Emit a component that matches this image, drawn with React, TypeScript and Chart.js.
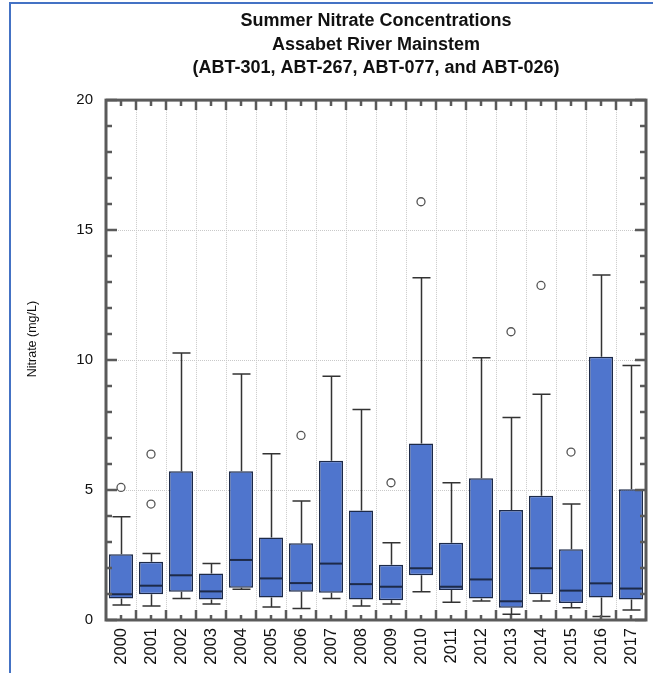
import React, { useEffect, useRef } from "react";
import { Chart, registerables } from "chart.js";

Chart.register(...registerables);

const years = ["2000", "2001", "2002", "2003", "2004", "2005", "2006", "2007", "2008", "2009", "2010", "2011", "2012", "2013", "2014", "2015", "2016", "2017"];
const whiskerLow = [0.58, 0.54, 0.83, 0.62, 1.18, 0.5, 0.44, 0.83, 0.54, 0.62, 1.09, 0.68, 0.73, 0.22, 0.73, 0.47, 0.13, 0.38];
const q1 = [0.83, 0.99, 1.09, 0.79, 1.24, 0.87, 1.09, 1.05, 0.79, 0.76, 1.72, 1.15, 0.83, 0.47, 0.99, 0.65, 0.87, 0.79];
const median = [0.99, 1.32, 1.72, 1.1, 2.31, 1.6, 1.42, 2.17, 1.38, 1.28, 1.99, 1.28, 1.56, 0.72, 1.99, 1.13, 1.41, 1.21];
const q3 = [2.53, 2.24, 5.72, 1.79, 5.72, 3.17, 2.95, 6.13, 4.21, 2.13, 6.79, 2.97, 5.45, 4.23, 4.78, 2.72, 10.13, 5.03];
const whiskerHigh = [3.97, 2.56, 10.27, 2.17, 9.46, 6.4, 4.58, 9.38, 8.1, 2.97, 13.17, 5.28, 10.09, 7.79, 8.68, 4.46, 13.27, 9.79];
const outlierYears = ["2000", "2001", "2001", "2006", "2009", "2010", "2013", "2014", "2015"];
const outlierValues = [5.1, 6.38, 4.46, 7.1, 5.28, 16.09, 11.09, 12.87, 6.46];
const yTicks = [0, 5, 10, 15, 20];
const titleLines = ["Summer Nitrate Concentrations", "Assabet River Mainstem", "(ABT-301, ABT-267, ABT-077, and ABT-026)"];
const yAxisTitle = "Nitrate (mg/L)";

const FONT = "'Liberation Sans', Arial, sans-serif";

const boxPlugin = {
  id: "boxExtras",
  beforeDatasetsDraw(chart: any) {
    const { ctx, chartArea: a, scales } = chart;
    const x = scales.x;
    const y = scales.y;
    ctx.save();
    ctx.strokeStyle = "#c9c9c9";
    ctx.lineWidth = 1;
    ctx.setLineDash([1, 1]);
    for (const v of yTicks) {
      if (v === 0 || v === 20) continue;
      const py = Math.round(y.getPixelForValue(v)) + 0.5;
      ctx.beginPath();
      ctx.moveTo(a.left, py);
      ctx.lineTo(a.right, py);
      ctx.stroke();
    }
    for (let i = 0; i < years.length - 1; i++) {
      const px = Math.round((x.getPixelForValue(i) + x.getPixelForValue(i + 1)) / 2) + 0.5;
      ctx.beginPath();
      ctx.moveTo(px, a.top);
      ctx.lineTo(px, a.bottom);
      ctx.stroke();
    }
    ctx.setLineDash([]);
    const cw = (a.right - a.left) / years.length;
    ctx.strokeStyle = "#333";
    ctx.lineWidth = 1.5;
    years.forEach((_, i) => {
      const cx = Math.round(x.getPixelForValue(i)) + 0.5;
      const hi = y.getPixelForValue(whiskerHigh[i]);
      const lo = y.getPixelForValue(whiskerLow[i]);
      const top = y.getPixelForValue(q3[i]);
      const bot = y.getPixelForValue(q1[i]);
      const hw = cw * 0.3;
      ctx.beginPath();
      ctx.moveTo(cx, top);
      ctx.lineTo(cx, hi);
      ctx.moveTo(cx - hw, hi);
      ctx.lineTo(cx + hw, hi);
      ctx.moveTo(cx, bot);
      ctx.lineTo(cx, lo);
      ctx.moveTo(cx - hw, lo);
      ctx.lineTo(cx + hw, lo);
      ctx.stroke();
    });
    ctx.restore();
  },
  afterDatasetsDraw(chart: any) {
    const { ctx, chartArea: a, scales } = chart;
    const x = scales.x;
    const y = scales.y;
    const cw = (a.right - a.left) / years.length;
    ctx.save();
    ctx.strokeStyle = "#1d2a48";
    ctx.lineWidth = 2;
    years.forEach((_, i) => {
      const cx = x.getPixelForValue(i);
      const py = y.getPixelForValue(median[i]);
      ctx.beginPath();
      ctx.moveTo(cx - cw * 0.4, py);
      ctx.lineTo(cx + cw * 0.4, py);
      ctx.stroke();
    });
    ctx.restore();
  },
  afterDraw(chart: any) {
    const { ctx, chartArea: a, scales } = chart;
    const x = scales.x;
    const y = scales.y;
    ctx.save();
    ctx.strokeStyle = "#5a5a5a";
    ctx.lineWidth = 2.5;
    for (let v = 0; v <= 20; v++) {
      const py = y.getPixelForValue(v);
      const len = v % 5 === 0 ? 11 : 6;
      ctx.beginPath();
      ctx.moveTo(a.left, py);
      ctx.lineTo(a.left + len, py);
      ctx.moveTo(a.right, py);
      ctx.lineTo(a.right - len, py);
      ctx.stroke();
    }
    for (let i = 0; i < years.length; i++) {
      const cx = x.getPixelForValue(i);
      ctx.beginPath();
      ctx.moveTo(cx, a.bottom);
      ctx.lineTo(cx, a.bottom - 5);
      ctx.moveTo(cx, a.top);
      ctx.lineTo(cx, a.top + 6);
      ctx.stroke();
      if (i < years.length - 1) {
        const bx = (cx + x.getPixelForValue(i + 1)) / 2;
        ctx.beginPath();
        ctx.moveTo(bx, a.bottom);
        ctx.lineTo(bx, a.bottom - 10);
        ctx.moveTo(bx, a.top);
        ctx.lineTo(bx, a.top + 10);
        ctx.stroke();
      }
    }
    ctx.lineWidth = 3;
    ctx.strokeRect(a.left, a.top, a.right - a.left, a.bottom - a.top);
    ctx.translate(33, (a.top + a.bottom) / 2 - 21);
    ctx.rotate(-Math.PI / 2);
    ctx.fillStyle = "#111";
    ctx.font = `12.5px ${FONT}`;
    ctx.textAlign = "center";
    ctx.textBaseline = "middle";
    ctx.fillText(yAxisTitle, 0, 0);
    ctx.restore();
  },
};

export default function App() {
  const ref = useRef<HTMLCanvasElement | null>(null);
  useEffect(() => {
    document.body.style.margin = "0";
    const canvas = ref.current;
    if (!canvas) return;
    const chart = new Chart(canvas, {
      type: "bar",
      data: {
        labels: years,
        datasets: [
          {
            type: "line",
            data: outlierYears.map((yr, i) => ({ x: yr, y: outlierValues[i] })) as any,
            showLine: false,
            pointRadius: 4,
            pointBackgroundColor: "#ffffff",
            pointBorderColor: "#555",
            pointBorderWidth: 1.3,
            order: 0,
          } as any,
          {
            type: "bar",
            data: years.map((_, i) => [q1[i], q3[i]]) as any,
            backgroundColor: "#4f75cd",
            borderColor: "#1d2a48",
            borderWidth: 1.5,
            borderSkipped: false,
            barPercentage: 0.8,
            categoryPercentage: 1,
            order: 1,
          } as any,
        ],
      },
      options: {
        animation: false,
        responsive: false,
        devicePixelRatio: 1,
        layout: { padding: { left: 0, right: 7, top: 0, bottom: 0 } },
        plugins: {
          legend: { display: false },
          tooltip: { enabled: false },
          title: {
            display: true,
            fullSize: false,
            text: titleLines,
            color: "#111",
            font: { family: FONT, size: 18, weight: "bold", lineHeight: 1.28 },
            padding: { top: 10, bottom: 21 },
          },
        },
        scales: {
          x: {
            type: "category",
            offset: true,
            grid: { display: false, drawTicks: false },
            border: { display: false },
            ticks: {
              autoSkip: false,
              minRotation: 90,
              maxRotation: 90,
              padding: 8,
              color: "#111",
              font: { family: FONT, size: 16.5 },
            },
            afterFit: (s: any) => {
              s.height = 53;
              s.paddingLeft = 0;
              s.paddingRight = 0;
            },
          },
          y: {
            min: 0,
            max: 20,
            grid: { display: false, drawTicks: false },
            border: { display: false },
            ticks: {
              stepSize: 5,
              padding: 13,
              color: "#111",
              font: { family: FONT, size: 15 },
            },
            afterFit: (s: any) => {
              s.width = 106;
              s.paddingTop = 0;
              s.paddingBottom = 0;
            },
          },
        },
      } as any,
      plugins: [boxPlugin],
    });
    return () => chart.destroy();
  }, []);
  return (
    <div style={{ position: "relative", width: 653, height: 673, background: "#fff" }}>
      <canvas ref={ref} width={653} height={673} style={{ display: "block" }} />
      <div
        style={{
          position: "absolute",
          left: 9,
          top: 2,
          right: 0,
          bottom: 0,
          borderLeft: "2px solid #4472c4",
          borderTop: "2px solid #4472c4",
          pointerEvents: "none",
        }}
      />
    </div>
  );
}
